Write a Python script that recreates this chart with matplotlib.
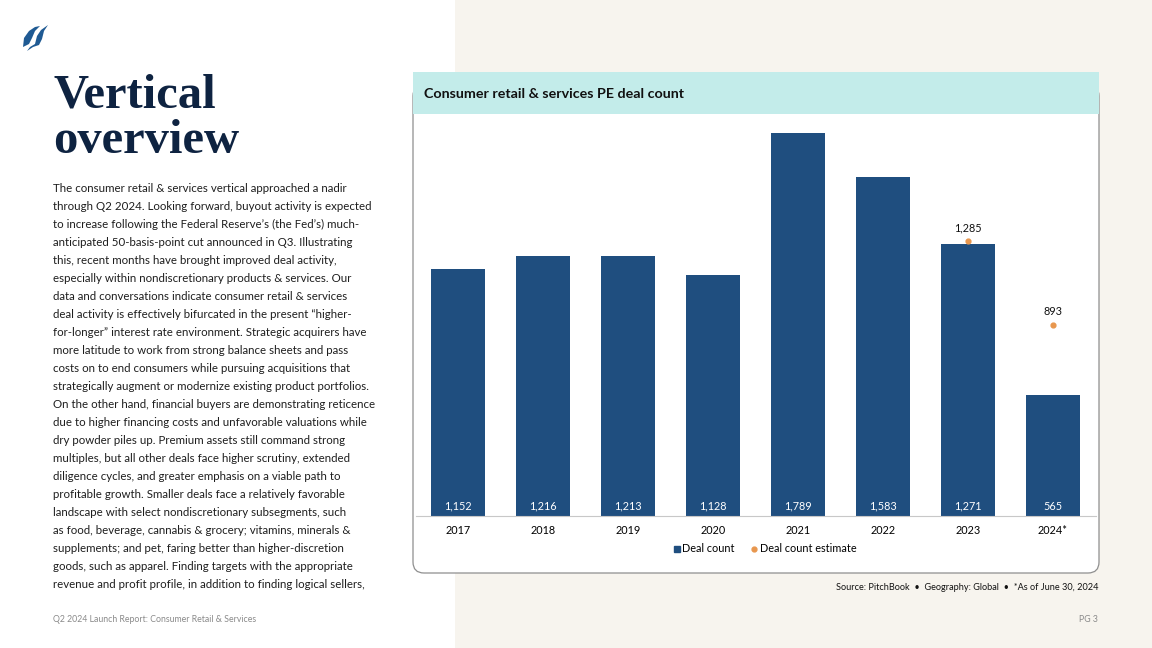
import numpy as np
import matplotlib
matplotlib.use("Agg")
import matplotlib.pyplot as plt
from matplotlib.patches import Rectangle, FancyBboxPatch, Polygon
from matplotlib.lines import Line2D

# data
years = ["2017", "2018", "2019", "2020", "2021", "2022", "2023", "2024*"]
deal_count = [1152, 1216, 1213, 1128, 1789, 1583, 1271, 565]
deal_estimate = [np.nan, np.nan, np.nan, np.nan, np.nan, np.nan, 1285, 893]

body_lines = [
    "The consumer retail & services vertical approached a nadir",
    "through Q2 2024. Looking forward, buyout activity is expected",
    "to increase following the Federal Reserve\u2019s (the Fed\u2019s) much-",
    "anticipated 50-basis-point cut announced in Q3. Illustrating",
    "this, recent months have brought improved deal activity,",
    "especially within nondiscretionary products & services. Our",
    "data and conversations indicate consumer retail & services",
    "deal activity is effectively bifurcated in the present \u201chigher-",
    "for-longer\u201d interest rate environment. Strategic acquirers have",
    "more latitude to work from strong balance sheets and pass",
    "costs on to end consumers while pursuing acquisitions that",
    "strategically augment or modernize existing product portfolios.",
    "On the other hand, financial buyers are demonstrating reticence",
    "due to higher financing costs and unfavorable valuations while",
    "dry powder piles up. Premium assets still command strong",
    "multiples, but all other deals face higher scrutiny, extended",
    "diligence cycles, and greater emphasis on a viable path to",
    "profitable growth. Smaller deals face a relatively favorable",
    "landscape with select nondiscretionary subsegments, such",
    "as food, beverage, cannabis & grocery; vitamins, minerals &",
    "supplements; and pet, faring better than higher-discretion",
    "goods, such as apparel. Finding targets with the appropriate",
    "revenue and profit profile, in addition to finding logical sellers,",
]

NAVY = "#0e2341"
BAR = "#1f4e7f"
DOT = "#e8974e"
narrow = ["Lato", "DejaVu Sans"]
body = ["Lato", "DejaVu Sans"]

W, H = 1152, 648
fig = plt.figure(figsize=(W / 100, H / 100), dpi=100)
fig.patch.set_facecolor("white")

# page layer in pixel coordinates
bg = fig.add_axes([0, 0, 1, 1])
bg.set_xlim(0, W)
bg.set_ylim(H, 0)
bg.axis("off")
bg.add_patch(Rectangle((455, 0), W - 455, H, fc="#f7f4ee", ec="none"))
bg.add_patch(FancyBboxPatch((413, 85), 686, 488, boxstyle="round,pad=0,rounding_size=11",
                            fc="white", ec="#8f8f8f", lw=0.9))
bg.add_patch(Rectangle((413, 72), 686, 42, fc="#c3ecea", ec="none"))
bg.text(424, 94, "Consumer retail & services PE deal count", fontsize=10.3, fontweight="bold",
        family=narrow, color="#111111", va="center")

# logo
bg.add_patch(Polygon([(23, 47), (24, 38), (29, 31), (35, 27), (40, 26), (35, 31), (32, 38), (29, 44)],
                     fc="#1f5a93", ec="none"))
bg.add_patch(Polygon([(27, 51), (30, 47), (35, 44), (37, 36), (41, 30), (48, 25), (44, 31), (42, 39),
                      (39, 45), (33, 47)], fc="#1f5a93", ec="none"))

# title and body
bg.text(53, 108, "Vertical", fontsize=35, fontweight="bold", family="Liberation Serif", color=NAVY)
bg.text(53, 153, "overview", fontsize=35, fontweight="bold", family="Liberation Serif", color=NAVY)
for i, line in enumerate(body_lines):
    bg.text(53, 188 + 18 * i, line, fontsize=8.3, family=body, color="#1e1e1e", va="center")

bg.text(53, 620, "Q2 2024 Launch Report: Consumer Retail & Services", fontsize=6.3, family=body,
        color="#8a8a8a", va="center")
bg.text(1098, 620, "PG 3", fontsize=6.3, family=body, color="#8a8a8a", va="center", ha="right")
bg.text(1098, 587, "Source: PitchBook  \u2022  Geography: Global  \u2022  *As of June 30, 2024",
        fontsize=6.6, family=body, color="#111111", va="center", ha="right")

# chart
ax = fig.add_axes([415.5 / W, (H - 516) / H, 680 / W, 396 / H])
ax.patch.set_alpha(0)
x = np.arange(len(years))
ax.bar(x, deal_count, width=0.64, color=BAR, zorder=2)
ax.scatter(x, deal_estimate, s=12, color=DOT, zorder=3)
ax.set_xlim(-0.5, len(years) - 0.5)
ax.set_ylim(0, 1850)
for i, v in enumerate(deal_count):
    ax.annotate(f"{v:,}", (i, 0), xytext=(0, 10), textcoords="offset pixels", ha="center",
                va="center", color="white", fontsize=7.8, family=narrow)
for i, v in enumerate(deal_estimate):
    if not np.isnan(v):
        ax.annotate(f"{int(v):,}", (i, v), xytext=(0, 13), textcoords="offset pixels", ha="center",
                    va="center", color="#111111", fontsize=7.8, family=narrow)
for s in ["top", "left", "right"]:
    ax.spines[s].set_visible(False)
ax.spines["bottom"].set_color("#c8c8c8")
ax.spines["bottom"].set_linewidth(0.8)
ax.set_yticks([])
ax.set_xticks(x, years)
ax.tick_params(axis="x", length=0, pad=6.5, labelsize=7.8)
for lab in ax.get_xticklabels():
    lab.set_family(narrow)

handles = [Line2D([], [], marker="s", ls="", color=BAR, markersize=5),
           Line2D([], [], marker="o", ls="", color=DOT, markersize=3.5)]
fig.legend(handles, ["Deal count", "Deal count estimate"], loc="center",
           bbox_to_anchor=(765 / W, 1 - 549 / H), ncol=2, frameon=False,
           prop={"family": narrow, "size": 7.8}, handlelength=0.6, handletextpad=0.2,
           columnspacing=1.5)

fig.savefig("out.png", dpi=100)
